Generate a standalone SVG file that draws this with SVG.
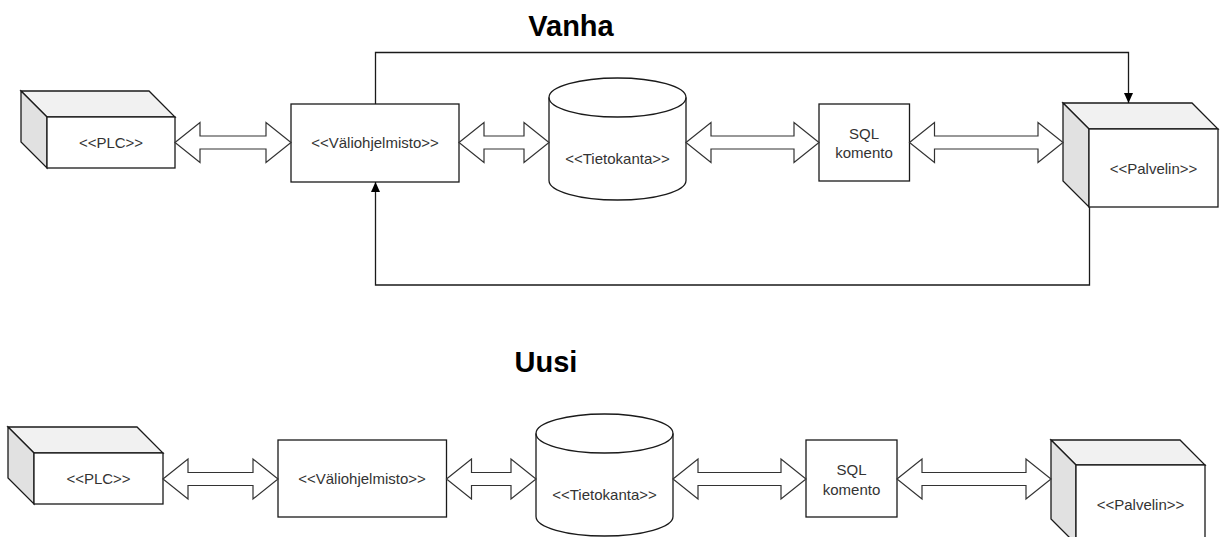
<svg xmlns="http://www.w3.org/2000/svg" width="1220" height="537" viewBox="0 0 1220 537">
  <style>
    .bg { fill: #ffffff; }
    .shape { fill: #ffffff; stroke: #1a1a1a; stroke-width: 1.3; stroke-linejoin: miter; }
    .topface { fill: #f1f1f1; stroke: #1a1a1a; stroke-width: 1.3; }
    .sideface { fill: #e1e1e1; stroke: #1a1a1a; stroke-width: 1.3; }
    .flex { fill: #ffffff; stroke: #333333; stroke-width: 1.2; stroke-linejoin: miter; }
    .link { fill: none; stroke: #1a1a1a; stroke-width: 1.3; }
    .label { font-family: "Liberation Sans", Arial, sans-serif; font-size: 15px; fill: #333333; text-anchor: middle; }
    .title { font-family: "Liberation Sans", Arial, sans-serif; font-size: 29px; font-weight: bold; fill: #000000; text-anchor: middle; }
  </style>
  <defs>
    <marker id="arrowhead" markerUnits="userSpaceOnUse" markerWidth="12" markerHeight="12" viewBox="0 0 12 12" refX="11" refY="6" orient="auto">
      <path d="M1,1.5 L11,6 L1,10.5 Z" fill="#000000"/>
    </marker>
  </defs>

  <rect class="bg" x="0" y="0" width="1220" height="537"/>

  <!-- section titles -->
  <text class="title" x="571" y="36">Vanha</text>
  <text class="title" x="546" y="372">Uusi</text>

  <!-- ===== upper row ===== -->
  <g id="plc-old">
    <path class="topface" d="M21,91 H149 L175,117 H47 Z"/>
    <path class="sideface" d="M21,91 L47,117 V168 L21,142 Z"/>
    <rect class="shape" x="47" y="117" width="128" height="51"/>
    <text class="label" x="111" y="148">&lt;&lt;PLC&gt;&gt;</text>
  </g>

  <g id="middleware-old">
    <rect class="shape" x="291" y="104" width="168" height="78"/>
    <text class="label" x="375" y="148">&lt;&lt;Väliohjelmisto&gt;&gt;</text>
  </g>

  <g id="database-old">
    <path class="shape" d="M549,97.5 A68.5,19.5 0 0 1 686,97.5 V180.5 A68.5,19.5 0 0 1 549,180.5 Z"/>
    <path class="link" d="M549,97.5 A68.5,19.5 0 0 0 686,97.5"/>
    <text class="label" x="617.5" y="163.5">&lt;&lt;Tietokanta&gt;&gt;</text>
  </g>

  <g id="sql-old">
    <rect class="shape" x="819" y="104" width="90.5" height="77"/>
    <text class="label" x="864" y="138.5">SQL</text>
    <text class="label" x="864" y="158">komento</text>
  </g>

  <g id="server-old">
    <path class="topface" d="M1063,103 H1192 L1218,129 H1089 Z"/>
    <path class="sideface" d="M1063,103 L1089,129 V207 L1063,181 Z"/>
    <rect class="shape" x="1089" y="129" width="129" height="78"/>
    <text class="label" x="1153.5" y="173.5">&lt;&lt;Palvelin&gt;&gt;</text>
  </g>

  <!-- ===== lower row ===== -->
  <g id="plc-new">
    <path class="topface" d="M8,427 H137 L163,453 H34 Z"/>
    <path class="sideface" d="M8,427 L34,453 V504 L8,478 Z"/>
    <rect class="shape" x="34" y="453" width="129" height="51"/>
    <text class="label" x="98.5" y="484">&lt;&lt;PLC&gt;&gt;</text>
  </g>

  <g id="middleware-new">
    <rect class="shape" x="278" y="440" width="168.5" height="77"/>
    <text class="label" x="362" y="484">&lt;&lt;Väliohjelmisto&gt;&gt;</text>
  </g>

  <g id="database-new">
    <path class="shape" d="M536,433.5 A68.5,19.5 0 0 1 673,433.5 V516.5 A68.5,19.5 0 0 1 536,516.5 Z"/>
    <path class="link" d="M536,433.5 A68.5,19.5 0 0 0 673,433.5"/>
    <text class="label" x="604.5" y="500">&lt;&lt;Tietokanta&gt;&gt;</text>
  </g>

  <g id="sql-new">
    <rect class="shape" x="806" y="440" width="91" height="77"/>
    <text class="label" x="851.5" y="475">SQL</text>
    <text class="label" x="851.5" y="494.5">komento</text>
  </g>

  <g id="server-new">
    <path class="topface" d="M1051,440 H1180 L1205,465 H1076 Z"/>
    <path class="sideface" d="M1051,440 L1076,465 V544 L1051,519 Z"/>
    <rect class="shape" x="1076" y="465" width="129" height="79"/>
    <text class="label" x="1140.5" y="510">&lt;&lt;Palvelin&gt;&gt;</text>
  </g>

  <!-- connectors -->
  <g id="connectors">
    <!-- double-headed flow arrows, upper row -->
    <polygon class="flex" points="175,142.5 200,122.5 200,136 266,136 266,122.5 291,142.5 266,162.5 266,149 200,149 200,162.5"/>
    <polygon class="flex" points="459,142.5 484,122.5 484,136 524,136 524,122.5 549,142.5 524,162.5 524,149 484,149 484,162.5"/>
    <polygon class="flex" points="686,142.5 711,122.5 711,136 794,136 794,122.5 819,142.5 794,162.5 794,149 711,149 711,162.5"/>
    <polygon class="flex" points="909.5,142.5 934.5,122.5 934.5,136 1038,136 1038,122.5 1063,142.5 1038,162.5 1038,149 934.5,149 934.5,162.5"/>

    <!-- return loops between middleware and server -->
    <path class="link" d="M375.5,104 V52.5 H1128.5 V103" marker-end="url(#arrowhead)"/>
    <path class="link" d="M1089.5,207 V285 H375.5 V182" marker-end="url(#arrowhead)"/>

    <!-- double-headed flow arrows, lower row -->
    <polygon class="flex" points="163,479 188,459 188,472.5 253,472.5 253,459 278,479 253,499 253,485.5 188,485.5 188,499"/>
    <polygon class="flex" points="446.5,479 471.5,459 471.5,472.5 511,472.5 511,459 536,479 511,499 511,485.5 471.5,485.5 471.5,499"/>
    <polygon class="flex" points="673,479 698,459 698,472.5 781,472.5 781,459 806,479 781,499 781,485.5 698,485.5 698,499"/>
    <polygon class="flex" points="897,479 922,459 922,472.5 1026,472.5 1026,459 1051,479 1026,499 1026,485.5 922,485.5 922,499"/>
  </g>
</svg>
